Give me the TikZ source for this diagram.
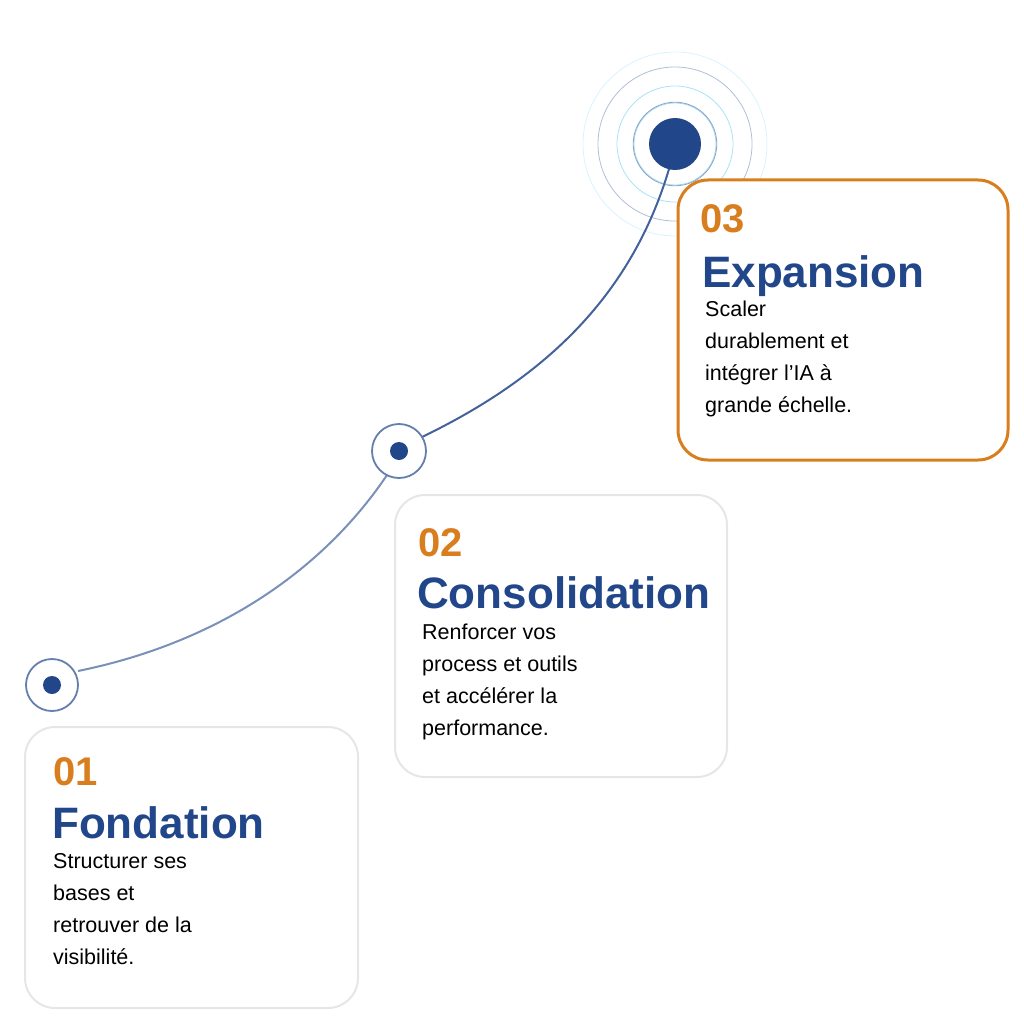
\documentclass[tikz,border=0pt]{standalone}
\usepackage{fontspec}
\setmainfont{Liberation Sans}
\usetikzlibrary{calc}
\begin{document}
\definecolor{navy}{HTML}{22468A}
\definecolor{orng}{HTML}{D97E1E}
\definecolor{lgray}{HTML}{E6E6E6}
\begin{tikzpicture}[x=1pt,y=-1pt,
  box/.style={draw=lgray,line width=2pt,rounded corners=30pt},
  num/.style={anchor=base west,inner sep=0,text=orng,font=\fontsize{40}{40}\selectfont\bfseries},
  ttl/.style={anchor=base west,inner sep=0,text=navy,font=\fontsize{44}{44}\selectfont\bfseries},
  body/.style={anchor=north west,inner sep=0,font=\fontsize{21.5}{32}\selectfont,align=left},
  ring/.style={draw=navy!70!white,line width=1.8pt,fill=white},
  dot/.style={fill=navy,circle,inner sep=0,minimum size=18pt}]
\useasboundingbox (0,0) rectangle (1024,1024);
% pulses
\coordinate (c3) at (675,144);
\draw[cyan!40,line width=0.8pt] (c3) circle (41);
\draw[navy!50,line width=0.8pt] (c3) circle (41.8);
\draw[cyan!35,line width=0.8pt] (c3) circle (58);
\draw[navy!35,line width=0.8pt] (c3) circle (77);
\draw[cyan!15,line width=0.8pt] (c3) circle (92);
% connectors
\coordinate (n1) at (52,685);
\coordinate (n2) at (399,451);
\draw[navy!60,line width=2pt] ($(n1)+(26,-14)$) .. controls (230,640) and (330,560) .. ($(n2)+(-12,24)$);
\draw[navy!85,line width=2pt] ($(n2)+(23,-14)$) .. controls (540,380) and (630,300) .. ($(c3)+(-6,25)$);
\fill[navy] (c3) circle (26);
\draw[ring] (n1) circle (26); \node[dot] (d1) at (n1) {};
\draw[ring] (n2) circle (27); \node[dot] (d2) at (n2) {};
% boxes
\draw[box] (25,727) rectangle (358,1008);
\draw[box] (395,495) rectangle (727,777);
\draw[box,draw=orng,line width=3pt,fill=white] (678,180) rectangle (1008,460);
% texts
\node[num] (t1) at (53,785) {01};
\node[ttl] (h1) at (52,838) {Fondation};
\node[body] (b1) at (53,853) {Structurer ses\\bases et\\retrouver de la\\visibilité.};
\node[num] (t2) at (418,556) {02};
\node[ttl] (h2) at (417,608) {Consolidation};
\node[body] (b2) at (422,624) {Renforcer vos\\process et outils\\et accélérer la\\performance.};
\node[num] (t3) at (700,233) {03};
\node[ttl] (h3) at (702,287) {Expansion};
\node[body] (b3) at (705,301) {Scaler\\durablement et\\intégrer l’IA à\\grande échelle.};
\end{tikzpicture}
\end{document}
